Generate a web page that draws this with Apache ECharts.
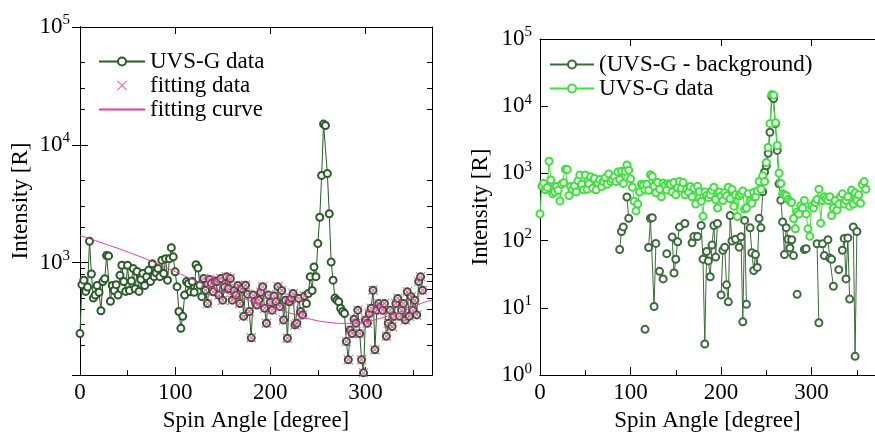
<!DOCTYPE html>
<html>
<head>
<meta charset="utf-8">
<title>UVS-G spin angle profile</title>
<script src="https://cdn.jsdelivr.net/npm/echarts@6/dist/echarts.min.js"></script>
<style>
html,body{margin:0;padding:0;background:#fff}
#main{width:875px;height:437px}
#warm{position:absolute;left:-9999px;top:0;font:23px 'Liberation Serif'}
</style>
</head>
<body>
<span id="warm">Spin Angle [degree] 10</span>
<div id="main"></div>
<script>
// spin angle sampled every 2 degrees, 0..360
const step = 2
const angles = []
for (let i = 0; i <= 180; i++) angles.push(i * step)

// UVS-G data [R]
const uvsData = [
  250, 650, 710, 570, 620, 1520, 800, 500, 530, 640,
  560, 390, 690, 730, 1150, 1140, 470, 640, 580, 650,
  530, 780, 950, 690, 570, 950, 580, 700, 890, 600,
  840, 570, 720, 810, 640, 760, 860, 690, 980, 760,
  820, 890, 760, 1050, 810, 1080, 710, 1080, 1340, 1120,
  835, 625, 385, 277, 350, 530, 690, 665, 565, 690,
  560, 960, 900, 643, 514, 733, 583, 450, 720, 665,
  565, 700, 690, 530, 733, 480, 620, 757, 600, 733,
  480, 580, 530, 640, 450, 600, 350, 643, 540, 385,
  230, 530, 470, 436, 480, 560, 625, 410, 306, 530,
  460, 395, 520, 466, 625, 423, 580, 326, 480, 228,
  466, 500, 547, 296, 306, 497, 385, 360, 520, 450,
  547, 760, 580, 920, 760, 1450, 2430, 5500, 15000, 14600,
  5700, 2600, 1010, 710, 500, 480, 466, 410, 385, 370,
  214, 150, 268, 250, 330, 306, 395, 250, 150, 116,
  326, 306, 370, 410, 583, 182, 395, 450, 423, 395,
  450, 237, 306, 395, 287, 350, 450, 497, 350, 395,
  450, 326, 565, 350, 514, 395, 480, 360, 690, 757,
  583
]

// UVS-G - background (null = below background, not drawn on log axis)
const bkgData = [
  null, null, null, null, null, null, null, null, null, null,
  null, null, null, null, null, null, null, null, null, null,
  null, null, null, null, null, null, null, null, null, null,
  null, null, null, null, null, null, null, null, null, null,
  null, null, null, null, 74, 137, 160, null, 447, 215,
  null, null, null, null, null, null, null, null, 4.8, null,
  79, 215, 220, 10.5, 91, null, 35, null, 27, null,
  64, null, null, 113, 33, 53, 96, 160, null, null,
  180, null, null, null, 93, 115, null, 115, null, 168,
  53, 2.9, 69, 50, 29, 86, 168, 57, 180, null,
  15.6, 72, 80, 22, 12.3, 236, 99, null, 105, null,
  80, 114, 6.2, 200, 11.3, null, 155, 66, 36, 62,
  40, 215, 155, 535, 1050, 1300, 2000, 4100, 14000, 13000,
  5500, 2200, 700, 400, 190, 62, 156, 105, 78, 103,
  60, null, 15.9, null, null, null, 74, 76, null, null,
  null, null, null, 90, 6, null, 90, 60, null, 103,
  55, 53, 21, null, null, 37, null, 72, 108, 27,
  110, 13.5, null, 160, 1.9, 137, null, null, null, null,
  null
]

// angle ranges used for the fit
const fitRanges = [[130, 236], [280, 360]]

// fitted background curve
const fitAngles = [0, 20, 40, 60, 80, 100, 120, 140, 160, 180, 200, 220, 240, 260, 280, 300, 320, 340, 360, 370]
const fitValues = [1700, 1500, 1320, 1150, 990, 840, 710, 610, 530, 470, 420, 375, 335, 312, 305, 315, 345, 390, 455, 480]

const xMajor = [0, 100, 200, 300]
const xMinor = [50, 150, 250, 350]
const yMinorLeft = [200, 300, 400, 500, 600, 700, 800, 900, 2000, 3000, 5000, 20000, 30000, 50000]

const ff = 'Liberation Serif'
const dk = '#2b5a2b'
const dk2 = '#3d6a3d'
const green = '#40e040'
const mag = '#e0409a'
// thin filled "x" mark
const crossPath = 'path://M0,0.7L0.7,0L5,4.3L9.3,0L10,0.7L5.7,5L10,9.3L9.3,10L5,5.7L0.7,10L0,9.3L4.3,5Z'

const uvsPairs = angles.map((a, i) => [a, uvsData[i]])
const bkgPairs = angles.map((a, i) => [a, bkgData[i] == null ? '-' : bkgData[i]])
const fitDataPairs = uvsPairs.filter(p => fitRanges.some(r => p[0] >= r[0] && p[0] <= r[1]))
const fitCurvePairs = fitAngles.map((a, i) => [a, fitValues[i]])

function powLabel(v) {
  const e = Math.log10(v)
  const r = Math.round(e)
  if (Math.abs(e - r) > 1e-6) return ''
  return '{b|10}{s|' + r + '}'
}
const powRich = {
  b: { fontFamily: ff, fontSize: 23, color: '#000', lineHeight: 28, verticalAlign: 'middle' },
  s: { fontFamily: ff, fontSize: 15, color: '#000', verticalAlign: 'top' }
}
const blackLine = { show: true, lineStyle: { color: '#000', width: 1 } }

function xAxes(g) {
  return [
    { type: 'value', gridIndex: g, position: 'bottom', min: 0, max: 370,
      axisLine: blackLine, splitLine: { show: false },
      axisTick: { inside: true, length: 8, customValues: xMajor, lineStyle: { color: '#000' } },
      axisLabel: { customValues: xMajor, fontFamily: ff, fontSize: 23, color: '#000', margin: 6 },
      name: 'Spin Angle [degree]', nameLocation: 'middle', nameGap: 30,
      nameTextStyle: { fontFamily: ff, fontSize: 23, color: '#000' } },
    { type: 'value', gridIndex: g, position: 'bottom', min: 0, max: 370,
      axisLine: blackLine, splitLine: { show: false }, axisLabel: { show: false },
      axisTick: { inside: true, length: 5, customValues: xMinor, lineStyle: { color: '#000' } } },
    { type: 'value', gridIndex: g, position: 'top', min: 0, max: 370,
      axisLine: blackLine, splitLine: { show: false }, axisLabel: { show: false },
      axisTick: { inside: true, length: 7, customValues: xMajor, lineStyle: { color: '#000' } } }
  ]
}

function yLog(g, min, pos, opts) {
  return Object.assign({
    type: 'log', logBase: 10, gridIndex: g, position: pos, min: min, max: 100000,
    axisLine: blackLine, splitLine: { show: false }, axisLabel: { show: false },
    axisTick: { inside: true, length: 8, lineStyle: { color: '#000' } }
  }, opts || {})
}

const yName = {
  name: 'Intensity [R]', nameLocation: 'middle', nameGap: 48, nameRotate: 90,
  nameTextStyle: { fontFamily: ff, fontSize: 23, color: '#000' }
}
const legendText = { fontFamily: ff, fontSize: 23, color: '#000', lineHeight: 22 }

const option = {
  backgroundColor: '#fff',
  textStyle: { fontFamily: ff },
  grid: [
    { left: 80, top: 27, width: 352, height: 350 },
    { left: 540, top: 39, width: 353, height: 340 }
  ],
  xAxis: xAxes(0).concat(xAxes(1)),
  yAxis: [
    yLog(0, 111, 'left', Object.assign({ axisLabel: { formatter: powLabel, rich: powRich, margin: 10 } }, yName)),
    yLog(0, 111, 'right'),
    yLog(0, 111, 'left', { axisTick: { inside: true, length: 5, customValues: yMinorLeft, lineStyle: { color: '#000' } } }),
    yLog(0, 111, 'right', { axisTick: { inside: true, length: 5, customValues: yMinorLeft, lineStyle: { color: '#000' } } }),
    yLog(1, 1, 'left', Object.assign({ axisLabel: { formatter: powLabel, rich: powRich, margin: 8 } }, yName))
  ],
  legend: [
    { orient: 'vertical', left: 93, top: 45, itemWidth: 46, itemHeight: 10, itemGap: 1,
      selectedMode: false, textStyle: legendText,
      data: ['UVS-G data', 'fitting data', { name: 'fitting curve', itemStyle: { opacity: 0 } }] },
    { orient: 'vertical', left: 544, top: 48, itemWidth: 44, itemHeight: 10, itemGap: 1,
      selectedMode: false, textStyle: legendText,
      data: ['(UVS-G - background)', 'UVS-G data '] }
  ],
  series: [
    { name: 'UVS-G data', type: 'line', xAxisIndex: 0, yAxisIndex: 0, data: uvsPairs,
      symbol: 'emptyCircle', symbolSize: 7, showAllSymbol: true,
      lineStyle: { color: dk, width: 1 }, itemStyle: { color: dk, borderColor: dk, borderWidth: 1 } },
    { name: 'fitting data', type: 'scatter', xAxisIndex: 0, yAxisIndex: 0, data: fitDataPairs,
      symbol: crossPath, symbolSize: 10, z: 3,
      itemStyle: { color: mag, opacity: 0.8 } },
    { name: 'fitting curve', type: 'line', xAxisIndex: 0, yAxisIndex: 0, data: fitCurvePairs,
      smooth: true, symbol: 'none', z: 4, lineStyle: { color: mag, width: 1 }, itemStyle: { color: mag } },
    { name: '(UVS-G - background)', type: 'line', xAxisIndex: 3, yAxisIndex: 4, data: bkgPairs,
      symbol: 'emptyCircle', symbolSize: 7, showAllSymbol: true, connectNulls: false,
      lineStyle: { color: dk2, width: 1 }, itemStyle: { color: dk2, borderColor: dk2, borderWidth: 1 } },
    { name: 'UVS-G data ', type: 'line', xAxisIndex: 3, yAxisIndex: 4, data: uvsPairs,
      symbol: 'emptyCircle', symbolSize: 7, showAllSymbol: true,
      lineStyle: { color: green, width: 1 }, itemStyle: { color: green, borderColor: green, borderWidth: 1 } }
  ]
}

const myChart = echarts.init(document.getElementById('main'))
myChart.setOption(option)
</script>
</body>
</html>
